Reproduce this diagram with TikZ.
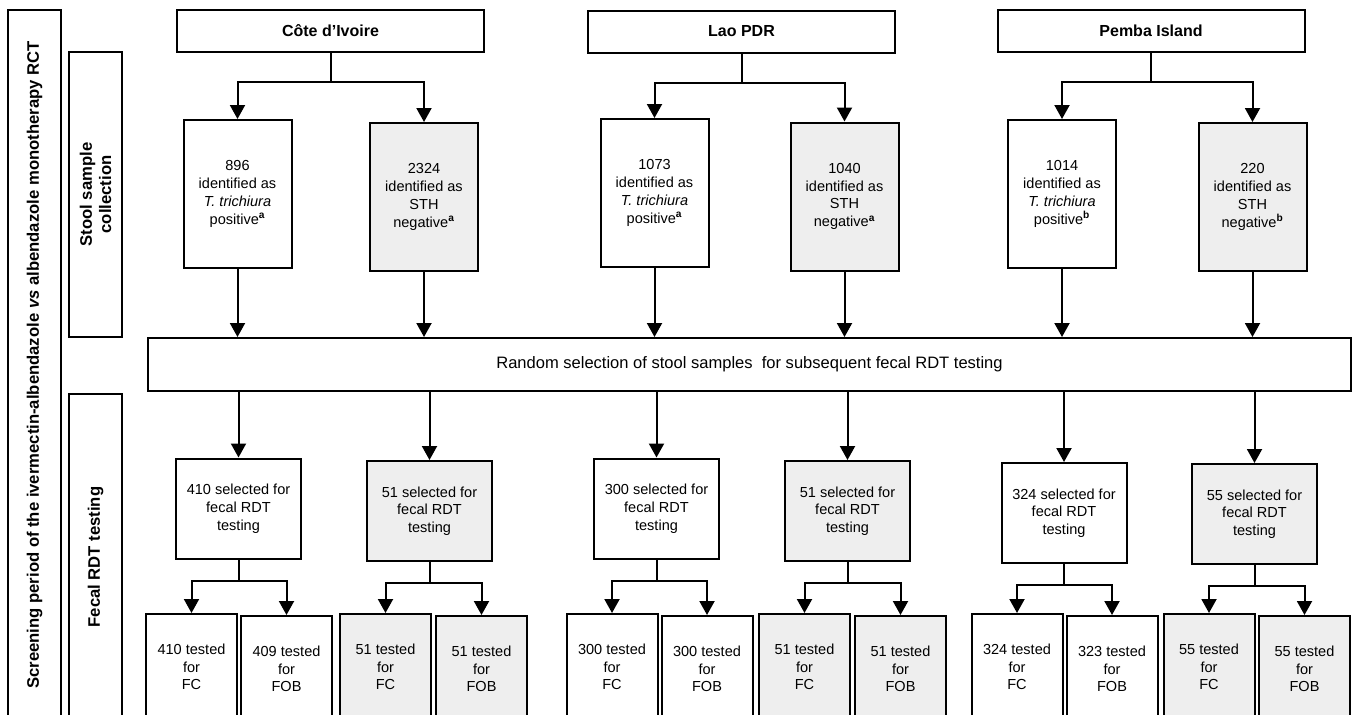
\documentclass[tikz,border=0pt]{standalone}
\usepackage{fontspec}
\setmainfont{Liberation Sans}
\usetikzlibrary{arrows.meta}
\definecolor{negfill}{RGB}{238,238,238}

\tikzset{every picture/.style={line width=1.5pt}}
\tikzset{
  box/.style={draw, inner sep=0.75pt, align=center, font=\fontsize{10.9}{13.3}\selectfont},
  negbox/.style={box, fill=negfill},
  sitebox/.style={box, minimum width=230.25pt, minimum height=31.5pt, font=\fontsize{12}{14}\selectfont\bfseries},
  stoolbox/.style={minimum width=81pt, minimum height=111pt},
  selbox/.style={minimum width=93.75pt, minimum height=75pt},
  testbox/.style={minimum width=68.25pt, minimum height=79.5pt},
  sidebox/.style={box, rotate=90, minimum height=39.75pt, font=\fontsize{12.5}{14.5}\selectfont\bfseries},
  arr/.style={-{Triangle[width=11.25pt,length=10.5pt]}}
}

\begin{document}
\begin{tikzpicture}[x=0.75pt,y=0.75pt,yscale=-1,xscale=1]
\useasboundingbox (0,0) rectangle (1355,714);
\clip (0,0) rectangle (1355,714);

% Side labels
\node [sidebox, minimum width=532.5pt] (period) at (34.5,365) {Screening period of the ivermectin-albendazole \textit{vs} albendazole monotherapy RCT};
\node [sidebox, minimum width=213.75pt] (stool) at (95.5,194.5) {Stool sample\\collection};
\node [sidebox, minimum width=244.5pt] (fecal) at (95.5,557) {Fecal RDT testing};

% Sites
\node [sitebox] (ci) at (330.5,31) {Côte d’Ivoire};
\node [sitebox] (lao) at (741.5,31.5) {Lao PDR};
\node [sitebox] (pem) at (1151,31) {Pemba Island};

% Stool sample collection
\node [box, stoolbox] (ciP) at (237.5,194) {896\\identified as\\\textit{T. trichiura}\\positive\textsuperscript{\textbf{a}}};
\node [negbox, stoolbox] (ciN) at (424,197) {2324\\identified as\\STH\\negative\textsuperscript{\textbf{a}}};
\node [box, stoolbox] (laoP) at (654.5,193) {1073\\identified as\\\textit{T. trichiura}\\positive\textsuperscript{\textbf{a}}};
\node [negbox, stoolbox] (laoN) at (844.5,196.5) {1040\\identified as\\STH\\negative\textsuperscript{\textbf{a}}};
\node [box, stoolbox] (pemP) at (1062,194) {1014\\identified as\\\textit{T. trichiura}\\positive\textsuperscript{\textbf{b}}};
\node [negbox, stoolbox] (pemN) at (1252.5,197) {220\\identified as\\STH\\negative\textsuperscript{\textbf{b}}};

% Random selection
\node [box, minimum width=902.25pt, minimum height=39.75pt, font=\fontsize{12.4}{14.5}\selectfont] (rand) at (749.5,364.5) {Random selection of stool samples\ \ for subsequent fecal RDT testing};

% Fecal RDT testing
\node [box, selbox] (ciSP) at (238.5,508.5) {410 selected for\\fecal RDT\\testing};
\node [negbox, selbox] (ciSN) at (429.5,511) {51 selected for\\fecal RDT\\testing};
\node [box, selbox] (laoSP) at (656.5,508.5) {300 selected for\\fecal RDT\\testing};
\node [negbox, selbox] (laoSN) at (847.5,511) {51 selected for\\fecal RDT\\testing};
\node [box, selbox] (pemSP) at (1064,513) {324 selected for\\fecal RDT\\testing};
\node [negbox, selbox] (pemSN) at (1254.5,514) {55 selected for\\fecal RDT\\testing};

\node [box, testbox] (ciPFC) at (191.5,667) {410 tested\\for\\FC};
\node [box, testbox] (ciPFOB) at (286.5,669) {409 tested\\for\\FOB};
\node [negbox, testbox] (ciNFC) at (385.5,667) {51 tested\\for\\FC};
\node [negbox, testbox] (ciNFOB) at (481.5,669) {51 tested\\for\\FOB};
\node [box, testbox] (laoPFC) at (612,667) {300 tested\\for\\FC};
\node [box, testbox] (laoPFOB) at (707,669) {300 tested\\for\\FOB};
\node [negbox, testbox] (laoNFC) at (804.5,667) {51 tested\\for\\FC};
\node [negbox, testbox] (laoNFOB) at (900.5,669) {51 tested\\for\\FOB};
\node [box, testbox] (pemPFC) at (1017,667) {324 tested\\for\\FC};
\node [box, testbox] (pemPFOB) at (1112,669) {323 tested\\for\\FOB};
\node [negbox, testbox] (pemNFC) at (1209,667) {55 tested\\for\\FC};
\node [negbox, testbox] (pemNFOB) at (1304.5,669) {55 tested\\for\\FOB};

% Site forks
\draw [arr] (ci.south) -- ++(0,29) -| (ciP.north);
\draw [arr] (ci.south) -- ++(0,29) -| (ciN.north);
\draw [arr] (lao.south) -- ++(0,29) -| (laoP.north);
\draw [arr] (lao.south) -- ++(0,29) -| (laoN.north);
\draw [arr] (pem.south) -- ++(0,29) -| (pemP.north);
\draw [arr] (pem.south) -- ++(0,29) -| (pemN.north);

% Into random selection
\draw [arr] (ciP.south) -- (ciP.south |- rand.north);
\draw [arr] (ciN.south) -- (ciN.south |- rand.north);
\draw [arr] (laoP.south) -- (laoP.south |- rand.north);
\draw [arr] (laoN.south) -- (laoN.south |- rand.north);
\draw [arr] (pemP.south) -- (pemP.south |- rand.north);
\draw [arr] (pemN.south) -- (pemN.south |- rand.north);

% Out of random selection
\draw [arr] (ciSP.north |- rand.south) -- (ciSP.north);
\draw [arr] (ciSN.north |- rand.south) -- (ciSN.north);
\draw [arr] (laoSP.north |- rand.south) -- (laoSP.north);
\draw [arr] (laoSN.north |- rand.south) -- (laoSN.north);
\draw [arr] (pemSP.north |- rand.south) -- (pemSP.north);
\draw [arr] (pemSN.north |- rand.south) -- (pemSN.north);

% Test forks
\draw [arr] (ciSP.south) -- ++(0,21) -| (ciPFC.north);
\draw [arr] (ciSP.south) -- ++(0,21) -| (ciPFOB.north);
\draw [arr] (ciSN.south) -- ++(0,21) -| (ciNFC.north);
\draw [arr] (ciSN.south) -- ++(0,21) -| (ciNFOB.north);
\draw [arr] (laoSP.south) -- ++(0,21) -| (laoPFC.north);
\draw [arr] (laoSP.south) -- ++(0,21) -| (laoPFOB.north);
\draw [arr] (laoSN.south) -- ++(0,21) -| (laoNFC.north);
\draw [arr] (laoSN.south) -- ++(0,21) -| (laoNFOB.north);
\draw [arr] (pemSP.south) -- ++(0,21) -| (pemPFC.north);
\draw [arr] (pemSP.south) -- ++(0,21) -| (pemPFOB.north);
\draw [arr] (pemSN.south) -- ++(0,21) -| (pemNFC.north);
\draw [arr] (pemSN.south) -- ++(0,21) -| (pemNFOB.north);
\end{tikzpicture}
\end{document}
